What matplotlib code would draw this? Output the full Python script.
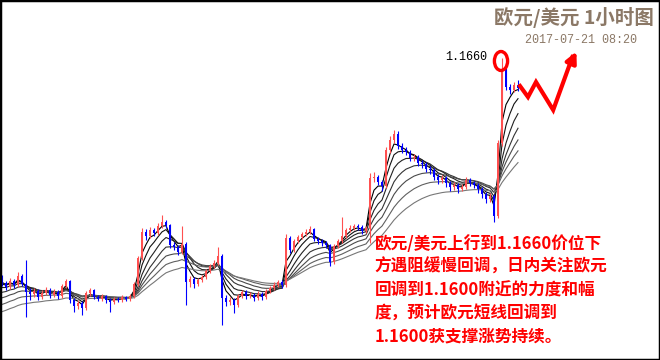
import matplotlib
matplotlib.use("Agg")
import matplotlib.pyplot as plt
import numpy as np
import pandas as pd
from matplotlib.patches import Ellipse, Rectangle

# EUR/USD 1h candles
opens = [1.1440, 1.1435, 1.1431, 1.1437, 1.1433, 1.1442, 1.1434, 1.1426, 1.1424, 1.1427,
         1.1421, 1.1425, 1.1428, 1.1423, 1.1426, 1.1422, 1.1432, 1.1437, 1.1418, 1.1412,
         1.1415, 1.1410, 1.1425, 1.1428, 1.1421, 1.1419, 1.1422, 1.1418, 1.1416, 1.1419,
         1.1418, 1.1421, 1.1419, 1.1422, 1.1434, 1.1460, 1.1486, 1.1482, 1.1488, 1.1485,
         1.1492, 1.1496, 1.1493, 1.1473, 1.1471, 1.1466, 1.1474, 1.1436, 1.1439, 1.1434,
         1.1438, 1.1441, 1.1447, 1.1452, 1.1455, 1.1462, 1.1420, 1.1416, 1.1418, 1.1413,
         1.1422, 1.1426, 1.1422, 1.1423, 1.1420, 1.1424, 1.1421, 1.1427, 1.1430, 1.1433,
         1.1436, 1.1433, 1.1480, 1.1468, 1.1477, 1.1481, 1.1484, 1.1486, 1.1489, 1.1479,
         1.1477, 1.1475, 1.1473, 1.1456, 1.1472, 1.1477, 1.1482, 1.1488, 1.1490, 1.1492,
         1.1491, 1.1487, 1.1490, 1.1540, 1.1541, 1.1536, 1.1532, 1.1568, 1.1578, 1.1584,
         1.1572, 1.1568, 1.1566, 1.1560, 1.1561, 1.1555, 1.1554, 1.1549, 1.1548, 1.1541,
         1.1538, 1.1540, 1.1535, 1.1531, 1.1533, 1.1529, 1.1531, 1.1538, 1.1535, 1.1533,
         1.1529, 1.1524, 1.1519, 1.1522, 1.1502, 1.1575, 1.1648, 1.1631, 1.1628, 1.1633]
closes = [1.1435, 1.1431, 1.1437, 1.1433, 1.1442, 1.1434, 1.1426, 1.1424, 1.1427, 1.1421,
          1.1425, 1.1428, 1.1423, 1.1426, 1.1422, 1.1432, 1.1437, 1.1418, 1.1412, 1.1415,
          1.1410, 1.1425, 1.1428, 1.1421, 1.1419, 1.1422, 1.1418, 1.1416, 1.1419, 1.1418,
          1.1421, 1.1419, 1.1422, 1.1434, 1.1460, 1.1486, 1.1482, 1.1488, 1.1485, 1.1492,
          1.1496, 1.1493, 1.1473, 1.1471, 1.1466, 1.1474, 1.1436, 1.1439, 1.1434, 1.1438,
          1.1441, 1.1447, 1.1452, 1.1455, 1.1462, 1.1420, 1.1416, 1.1418, 1.1413, 1.1422,
          1.1426, 1.1422, 1.1423, 1.1420, 1.1424, 1.1421, 1.1427, 1.1430, 1.1433, 1.1436,
          1.1433, 1.1480, 1.1468, 1.1477, 1.1481, 1.1484, 1.1486, 1.1489, 1.1479, 1.1477,
          1.1475, 1.1473, 1.1456, 1.1472, 1.1477, 1.1482, 1.1488, 1.1490, 1.1492, 1.1491,
          1.1487, 1.1490, 1.1540, 1.1541, 1.1536, 1.1532, 1.1568, 1.1578, 1.1584, 1.1572,
          1.1568, 1.1566, 1.1560, 1.1561, 1.1555, 1.1554, 1.1549, 1.1548, 1.1541, 1.1538,
          1.1540, 1.1535, 1.1531, 1.1533, 1.1529, 1.1531, 1.1538, 1.1535, 1.1533, 1.1529,
          1.1524, 1.1519, 1.1522, 1.1502, 1.1575, 1.1648, 1.1631, 1.1628, 1.1633, 1.1630]
highs = [1.1443, 1.1437, 1.1440, 1.1439, 1.1446, 1.1444, 1.1458, 1.1430, 1.1430, 1.1429,
         1.1428, 1.1431, 1.1430, 1.1429, 1.1428, 1.1434, 1.1439, 1.1438, 1.1420, 1.1418,
         1.1417, 1.1427, 1.1430, 1.1429, 1.1423, 1.1424, 1.1423, 1.1420, 1.1421, 1.1421,
         1.1423, 1.1422, 1.1424, 1.1436, 1.1462, 1.1490, 1.1489, 1.1491, 1.1490, 1.1495,
         1.1503, 1.1498, 1.1494, 1.1476, 1.1473, 1.1492, 1.1476, 1.1442, 1.1441, 1.1440,
         1.1443, 1.1449, 1.1454, 1.1458, 1.1471, 1.1464, 1.1423, 1.1421, 1.1420, 1.1424,
         1.1428, 1.1428, 1.1426, 1.1425, 1.1427, 1.1426, 1.1429, 1.1432, 1.1436, 1.1438,
         1.1438, 1.1484, 1.1482, 1.1479, 1.1483, 1.1486, 1.1489, 1.1492, 1.1490, 1.1481,
         1.1479, 1.1477, 1.1474, 1.1474, 1.1479, 1.1501, 1.1490, 1.1493, 1.1494, 1.1494,
         1.1493, 1.1492, 1.1545, 1.1546, 1.1543, 1.1538, 1.1571, 1.1582, 1.1588, 1.1587,
         1.1575, 1.1571, 1.1568, 1.1564, 1.1563, 1.1558, 1.1556, 1.1552, 1.1550, 1.1544,
         1.1543, 1.1542, 1.1537, 1.1536, 1.1535, 1.1534, 1.1541, 1.1540, 1.1537, 1.1535,
         1.1531, 1.1526, 1.1525, 1.1524, 1.1578, 1.1660, 1.1650, 1.1634, 1.1636, 1.1638]
lows = [1.1432, 1.1428, 1.1429, 1.1430, 1.1431, 1.1432, 1.1401, 1.1418, 1.1421, 1.1418,
        1.1419, 1.1423, 1.1420, 1.1421, 1.1419, 1.1420, 1.1430, 1.1415, 1.1406, 1.1409,
        1.1403, 1.1408, 1.1422, 1.1419, 1.1417, 1.1417, 1.1415, 1.1406, 1.1414, 1.1416,
        1.1416, 1.1417, 1.1417, 1.1420, 1.1432, 1.1458, 1.1478, 1.1480, 1.1482, 1.1483,
        1.1490, 1.1490, 1.1470, 1.1468, 1.1463, 1.1464, 1.1413, 1.1431, 1.1430, 1.1432,
        1.1436, 1.1439, 1.1445, 1.1450, 1.1453, 1.1393, 1.1412, 1.1413, 1.1405, 1.1411,
        1.1420, 1.1419, 1.1420, 1.1417, 1.1418, 1.1418, 1.1419, 1.1425, 1.1428, 1.1431,
        1.1430, 1.1431, 1.1465, 1.1466, 1.1475, 1.1479, 1.1482, 1.1484, 1.1477, 1.1474,
        1.1472, 1.1470, 1.1452, 1.1454, 1.1470, 1.1475, 1.1480, 1.1486, 1.1488, 1.1488,
        1.1484, 1.1485, 1.1475, 1.1536, 1.1533, 1.1527, 1.1530, 1.1565, 1.1575, 1.1569,
        1.1565, 1.1563, 1.1557, 1.1557, 1.1552, 1.1550, 1.1546, 1.1544, 1.1538, 1.1534,
        1.1535, 1.1531, 1.1527, 1.1528, 1.1525, 1.1527, 1.1529, 1.1532, 1.1530, 1.1525,
        1.1520, 1.1515, 1.1516, 1.1496, 1.1500, 1.1572, 1.1628, 1.1624, 1.1626, 1.1627]

# bars before the visible window, only used so the averages start spread out
warmup_closes = [1.1370, 1.1368, 1.1372, 1.1375, 1.1371, 1.1378, 1.1382, 1.1380, 1.1385, 1.1390,
                 1.1388, 1.1393, 1.1397, 1.1395, 1.1400, 1.1404, 1.1402, 1.1408, 1.1412, 1.1410,
                 1.1415, 1.1419, 1.1417, 1.1422, 1.1426, 1.1424, 1.1429, 1.1433, 1.1436, 1.1440]

ema_periods = [3, 5, 8, 12, 17, 24, 34]

title = "欧元/美元 1小时图"
stamp = "2017-07-21 08:20"
peak_label = "1.1660"
comment = ("欧元/美元上行到1.1660价位下\n"
           "方遇阻缓慢回调，日内关注欧元\n"
           "回调到1.1600附近的力度和幅\n"
           "度，预计欧元短线回调到\n"
           "1.1600获支撑涨势持续。")

cjk = ["Noto Sans CJK SC", "DejaVu Sans"]
brown = "#8b7866"
up_col = "#ff5050"
down_col = "#0000ff"

fig = plt.figure(figsize=(6.6, 3.6), dpi=100)
ax = fig.add_axes([0, 0, 1, 1])
ax.set_xlim(-0.5, 164.5)
ax.set_ylim(1.1358, 1.1718)
ax.set_axis_off()

o = np.array(opens)
c = np.array(closes)
h = np.array(highs)
l = np.array(lows)
x = np.arange(len(c))

# moving averages, fast (black) to slow (grey)
full = pd.Series(warmup_closes + closes)
shades = ["#000000", "#111111", "#222222", "#333333", "#4a4a4a", "#606060", "#777777"]
for p, col in zip(ema_periods, shades):
    ema = full.ewm(span=p, adjust=False).mean().values[len(warmup_closes):]
    ax.plot(x, ema, color=col, lw=0.8, zorder=2)

# candles
up = c >= o
cols = np.where(up, up_col, down_col)
ax.vlines(x, l, h, colors=cols, lw=0.8, zorder=3)
body = np.maximum(np.abs(c - o), 0.0001)
ax.bar(x, body, bottom=np.minimum(o, c), width=0.6, color=cols, lw=0, zorder=4)

# peak marker
top_i = int(np.argmax(h))
ax.add_patch(Ellipse((top_i - 0.25, h[top_i] - 0.0003), 3.3, 0.0019,
                     fill=False, ec="#ff0000", lw=2.4, zorder=6))
ax.text(top_i - 3.8, h[top_i] + 0.0001, peak_label, ha="right", va="center",
        fontsize=8.5, family="Liberation Mono", color="black")

# zigzag forecast arrow
zx = [129.5, 131.5, 133.5, 137.8, 142.6]
zy = [1.1632, 1.1621, 1.1636, 1.1608, 1.1661]
ax.plot(zx, zy, color="#ff0000", lw=3, solid_joinstyle="miter", zorder=6)
ax.annotate("", xy=(143.9, 1.1669), xytext=(141.8, 1.1651),
            arrowprops=dict(arrowstyle="-|>", color="#ff0000", lw=3, mutation_scale=16),
            zorder=6)

# texts
fig.text(0.99, 0.952, title, ha="right", va="center", fontsize=14, fontweight="bold",
         color=brown, family=cjk)
fig.text(0.965, 0.888, stamp, ha="right", va="center", fontsize=8.5,
         family="Liberation Mono", color=brown)
fig.text(0.568, 0.347, comment, ha="left", va="top", fontsize=12, fontweight="bold",
         color="#ff0000", family=cjk, linespacing=1.36)

fig.add_artist(Rectangle((0, 0), 1, 1, transform=fig.transFigure, fill=False,
                         ec="black", lw=2.5))

fig.savefig("out.png", dpi=100)
